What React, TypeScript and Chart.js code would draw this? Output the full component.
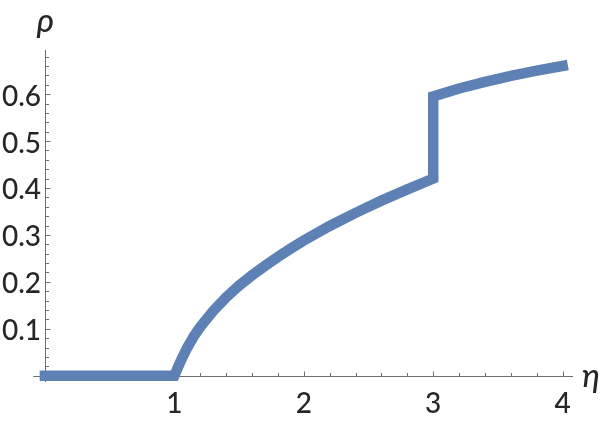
import React, { useEffect, useRef } from "react";
import { Chart, registerables } from "chart.js";

Chart.register(...registerables);

// Data
const etaValues = [0, 1, 1.025, 1.05, 1.1, 1.15, 1.2, 1.3, 1.4, 1.5, 1.6, 1.7, 1.8, 1.9, 2.0, 2.2, 2.4, 2.6, 2.8, 3.0, 3.0, 3.2, 3.4, 3.6, 3.8, 4.0];
const rhoValues = [0, 0, 0.016, 0.032, 0.060, 0.084, 0.104, 0.138, 0.167, 0.192, 0.214, 0.234, 0.253, 0.271, 0.288, 0.319, 0.347, 0.373, 0.397, 0.42, 0.595, 0.612, 0.626, 0.639, 0.650, 0.660];

const xTickValues = [1, 2, 3, 4];
const xTickLabels = ["1", "2", "3", "4"];
const yTickValues = [0.1, 0.2, 0.3, 0.4, 0.5, 0.6];
const yTickLabels = ["0.1", "0.2", "0.3", "0.4", "0.5", "0.6"];
const xMinorStep = 0.2;
const yMinorStep = 0.02;

const xTitle = "η";
const yTitle = "ρ";

const X_MIN = -0.09;
const X_MAX = 4.08;
const Y_MIN = -0.0134;
const Y_MAX = 0.694;

const AXIS_COLOR = "#6e6e6e";
const TEXT_COLOR = "#262626";
const LINE_COLOR = "#5E81B5";

const axesPlugin = {
  id: "mmaAxes",
  beforeDatasetsDraw(chart: any) {
    const { ctx } = chart;
    const x = chart.scales.x;
    const y = chart.scales.y;
    const x0 = Math.round(x.getPixelForValue(0)) + 0.5;
    const y0 = Math.round(y.getPixelForValue(0)) + 0.5;
    ctx.save();
    ctx.strokeStyle = AXIS_COLOR;
    ctx.lineWidth = 1;
    ctx.beginPath();
    ctx.moveTo(x.left, y0);
    ctx.lineTo(x.right, y0);
    ctx.moveTo(x0, y.top);
    ctx.lineTo(x0, y.bottom);
    ctx.stroke();

    // x ticks (pointing up)
    ctx.beginPath();
    for (let i = 1; i * xMinorStep <= X_MAX + 1e-9; i++) {
      const v = i * xMinorStep;
      const isMajor = xTickValues.some((t) => Math.abs(t - v) < 1e-6);
      const px = Math.round(x.getPixelForValue(v)) + 0.5;
      const len = isMajor ? 5 : 3.5;
      ctx.moveTo(px, y0);
      ctx.lineTo(px, y0 - len);
    }
    // y ticks (pointing right)
    for (let i = 1; i * yMinorStep <= Y_MAX + 1e-9; i++) {
      const v = i * yMinorStep;
      const isMajor = yTickValues.some((t) => Math.abs(t - v) < 1e-6);
      const py = Math.round(y.getPixelForValue(v)) + 0.5;
      const len = isMajor ? 5 : 3.5;
      ctx.moveTo(x0, py);
      ctx.lineTo(x0 + len, py);
    }
    ctx.stroke();

    // tick labels
    ctx.fillStyle = TEXT_COLOR;
    ctx.font = "500 28px Lato";
    ctx.textAlign = "center";
    ctx.textBaseline = "alphabetic";
    xTickValues.forEach((v, i) => {
      ctx.fillText(xTickLabels[i], x.getPixelForValue(v), y0 + 36);
    });
    ctx.textAlign = "right";
    yTickValues.forEach((v, i) => {
      ctx.fillText(yTickLabels[i], x0 - 4.5, y.getPixelForValue(v) + 11.5);
    });

    // axis titles
    ctx.font = "italic 500 33px Lato";
    ctx.textAlign = "center";
    ctx.fillText(yTitle, x0, 32);
    ctx.textAlign = "left";
    ctx.fillText(xTitle, x.right + 9, y0 + 10);
    ctx.restore();
  },
};

export default function App() {
  const canvasRef = useRef<HTMLCanvasElement | null>(null);

  useEffect(() => {
    const canvas = canvasRef.current;
    if (!canvas) return;
    const points = etaValues.map((e, i) => ({ x: e, y: rhoValues[i] }));
    const chart = new Chart(canvas, {
      type: "line",
      data: {
        datasets: [
          {
            data: points,
            borderColor: LINE_COLOR,
            borderWidth: 10.5,
            borderCapStyle: "square",
            borderJoinStyle: "miter",
            pointRadius: 0,
            tension: 0,
            fill: false,
            clip: false as any,
          },
        ],
      },
      options: {
        responsive: false,
        animation: false,
        devicePixelRatio: 1,
        layout: { padding: { left: 33.3, right: 27, top: 50, bottom: 40 } },
        plugins: { legend: { display: false }, tooltip: { enabled: false } },
        scales: {
          x: { type: "linear", min: X_MIN, max: X_MAX, display: false },
          y: { type: "linear", min: Y_MIN, max: Y_MAX, display: false },
        },
      },
      plugins: [axesPlugin],
    } as any);
    return () => chart.destroy();
  }, []);

  return (
    <div style={{ position: "absolute", left: 0, top: 0, width: 600, height: 422, background: "#fff" }}>
      <canvas ref={canvasRef} width={600} height={422} style={{ display: "block" }} />
    </div>
  );
}
